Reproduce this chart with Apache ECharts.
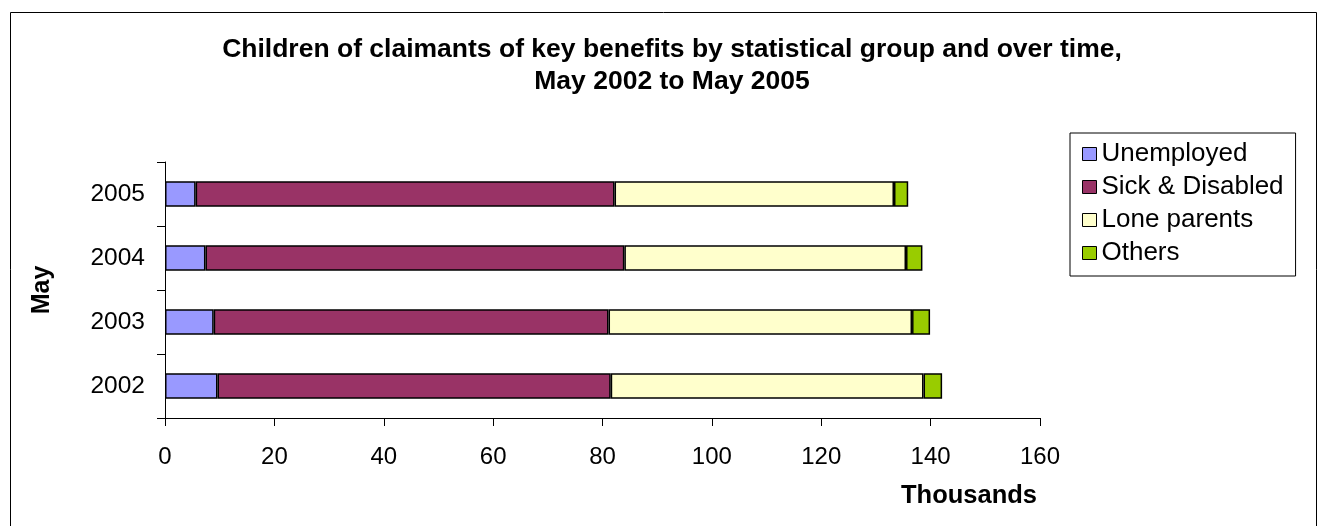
<!DOCTYPE html>
<html>
<head>
<meta charset="utf-8">
<script src="https://cdn.jsdelivr.net/npm/echarts@6/dist/echarts.min.js"></script>
<style>
html,body{margin:0;padding:0;background:#fff;}
#chart{width:1319px;height:526px;}
</style>
</head>
<body>
<div id="chart"></div>
<script>
const categories = ['2002', '2003', '2004', '2005'];
const seriesNames = ['Unemployed', 'Sick & Disabled', 'Lone parents', 'Others'];
const unemployed = [9.6, 8.9, 7.4, 5.6];
const sickDisabled = [71.9, 72.2, 76.6, 76.6];
const loneParents = [57.2, 55.5, 51.5, 51.1];
const others = [3.4, 3.3, 3.0, 2.6];
const xTicks = [0, 20, 40, 60, 80, 100, 120, 140, 160];
const colors = ['#9999FF', '#993366', '#FFFFCC', '#99CC00'];

const FONT = "'Liberation Sans', Arial, sans-serif";
const allValues = [unemployed, sickDisabled, loneParents, others];

const chart = echarts.init(document.getElementById('chart'), null, {renderer: 'canvas'});
chart.setOption({
  animation: false,
  backgroundColor: '#ffffff',
  textStyle: {fontFamily: FONT, color: '#000'},
  graphic: [{
    type: 'rect',
    shape: {x: 10.5, y: 12.5, width: 1306, height: 600},
    style: {fill: 'none', stroke: '#000', lineWidth: 1},
    silent: true
  }],
  title: {
    text: 'Children of claimants of key benefits by statistical group and over time,\nMay 2002 to May 2005',
    left: 667,
    top: 29,
    textAlign: 'center',
    textStyle: {fontFamily: FONT, fontSize: 26.5, fontWeight: 'bold', color: '#000', lineHeight: 32}
  },
  legend: {
    orient: 'vertical',
    left: 1070,
    top: 133,
    padding: [7, 12, 9, 12],
    itemGap: 5,
    itemWidth: 14,
    itemHeight: 13,
    icon: 'rect',
    borderColor: '#000',
    borderWidth: 1,
    data: seriesNames,
    textStyle: {fontFamily: FONT, fontSize: 26, color: '#000', lineHeight: 28},
    itemStyle: {borderColor: '#000', borderWidth: 1}
  },
  grid: {left: 165, right: 279, top: 162, bottom: 108, containLabel: false},
  xAxis: {
    type: 'value',
    min: xTicks[0],
    max: xTicks[xTicks.length - 1],
    interval: xTicks[1] - xTicks[0],
    name: 'Thousands',
    nameLocation: 'end',
    nameGap: -3,
    nameTextStyle: {fontFamily: FONT, fontSize: 25.5, fontWeight: 'bold', color: '#000', align: 'right', verticalAlign: 'top', padding: [65, 0, 0, 0]},
    axisLine: {show: true, lineStyle: {color: '#000', width: 1}},
    axisTick: {show: true, length: 8, lineStyle: {color: '#000'}},
    axisLabel: {fontFamily: FONT, fontSize: 24, color: '#000', margin: 27},
    splitLine: {show: false}
  },
  yAxis: {
    type: 'category',
    data: categories,
    name: 'May',
    nameLocation: 'middle',
    nameRotate: 90,
    nameGap: 110,
    nameTextStyle: {fontFamily: FONT, fontSize: 25, fontWeight: 'bold', color: '#000'},
    axisLine: {show: true, lineStyle: {color: '#000', width: 1}},
    axisTick: {show: true, length: 8, lineStyle: {color: '#000'}},
    axisLabel: {fontFamily: FONT, fontSize: 24.5, color: '#000', margin: 20},
    splitLine: {show: false}
  },
  series: seriesNames.map((name, i) => ({
    name: name,
    type: 'bar',
    stack: 'total',
    barCategoryGap: '60%',
    data: allValues[i],
    itemStyle: {color: colors[i], borderColor: '#000', borderWidth: 1.5}
  }))
});
</script>
</body>
</html>
